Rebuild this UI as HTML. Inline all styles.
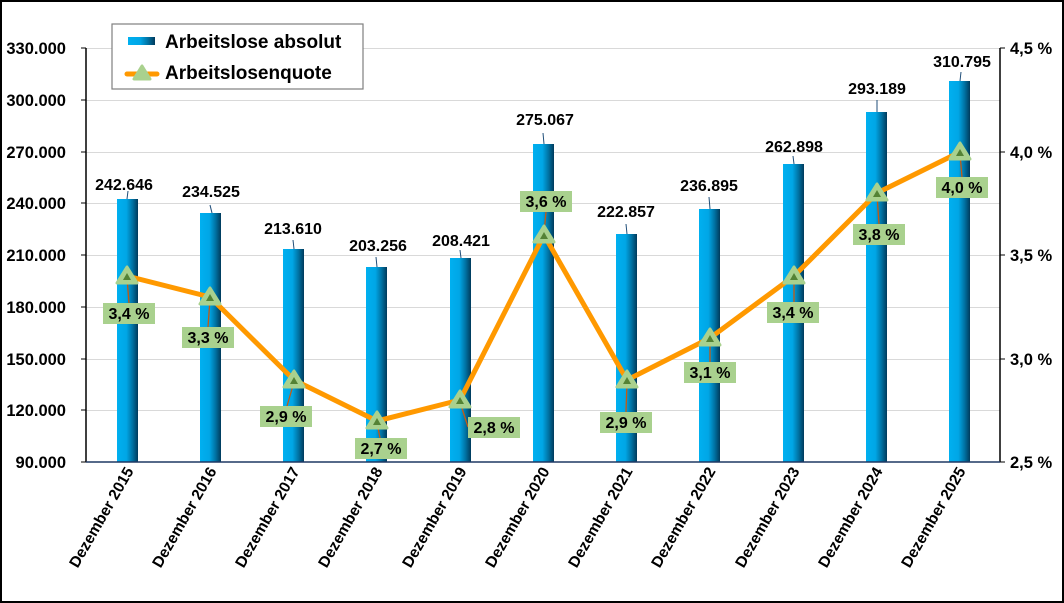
<!DOCTYPE html>
<html><head><meta charset="utf-8"><style>
html,body{margin:0;padding:0;background:#fff}
svg{display:block;font-family:"Liberation Sans",Arial,sans-serif;font-weight:bold}
</style></head><body>
<svg width="1064" height="603" viewBox="0 0 1064 603" xmlns="http://www.w3.org/2000/svg">
<defs>
<linearGradient id="bar" x1="0" x2="1" y1="0" y2="0">
<stop offset="0" stop-color="#00b0f0"/><stop offset="0.45" stop-color="#00a6e6"/><stop offset="0.75" stop-color="#0070a0"/><stop offset="1" stop-color="#003a5c"/>
</linearGradient>
</defs>
<rect x="1" y="1" width="1062" height="601" fill="#fff" stroke="#000" stroke-width="2"/>
<g stroke="#d9d9d9" stroke-width="1">
<line x1="86" x2="1000" y1="48.5" y2="48.5"/><line x1="86" x2="1000" y1="100.5" y2="100.5"/><line x1="86" x2="1000" y1="152.5" y2="152.5"/><line x1="86" x2="1000" y1="203.5" y2="203.5"/><line x1="86" x2="1000" y1="255.5" y2="255.5"/><line x1="86" x2="1000" y1="307.5" y2="307.5"/><line x1="86" x2="1000" y1="359.5" y2="359.5"/><line x1="86" x2="1000" y1="410.5" y2="410.5"/>
</g>
<g fill="url(#bar)">
<rect x="117" y="199" width="21" height="263"/>
<rect x="200" y="213" width="21" height="249"/>
<rect x="283" y="249" width="21" height="213"/>
<rect x="366" y="267" width="21" height="195"/>
<rect x="450" y="258" width="21" height="204"/>
<rect x="533" y="144" width="21" height="318"/>
<rect x="616" y="234" width="21" height="228"/>
<rect x="699" y="209" width="21" height="253"/>
<rect x="783" y="164" width="21" height="298"/>
<rect x="866" y="112" width="21" height="350"/>
<rect x="949" y="81" width="21" height="381"/>
</g>
<g stroke="#000" stroke-width="1.5" fill="none">
<line x1="86" x2="86" y1="48" y2="462"/><line x1="1000" x2="1000" y1="48" y2="462"/>
</g>
<line x1="86" x2="1000" y1="462" y2="462" stroke="#1f3864" stroke-width="1.5"/>
<g stroke="#000" stroke-width="1">
<line x1="81" x2="86" y1="48" y2="48"/><line x1="81" x2="86" y1="100" y2="100"/><line x1="81" x2="86" y1="152" y2="152"/><line x1="81" x2="86" y1="203" y2="203"/><line x1="81" x2="86" y1="255" y2="255"/><line x1="81" x2="86" y1="307" y2="307"/><line x1="81" x2="86" y1="359" y2="359"/><line x1="81" x2="86" y1="410" y2="410"/><line x1="81" x2="86" y1="462" y2="462"/>
<line x1="1000" x2="1005" y1="48" y2="48"/><line x1="1000" x2="1005" y1="152" y2="152"/><line x1="1000" x2="1005" y1="255" y2="255"/><line x1="1000" x2="1005" y1="359" y2="359"/><line x1="1000" x2="1005" y1="462" y2="462"/>
</g>
<g font-size="16.5" fill="#000" text-anchor="end">
<text x="66" y="54">330.000</text><text x="66" y="106">300.000</text><text x="66" y="158">270.000</text><text x="66" y="209">240.000</text><text x="66" y="261">210.000</text><text x="66" y="313">180.000</text><text x="66" y="365">150.000</text><text x="66" y="416">120.000</text><text x="66" y="468">90.000</text>
</g>
<g font-size="16.5" fill="#000">
<text x="1010" y="54">4,5 %</text><text x="1010" y="158">4,0 %</text><text x="1010" y="261">3,5 %</text><text x="1010" y="365">3,0 %</text><text x="1010" y="468">2,5 %</text>
</g>
<g font-size="15.5" fill="#000" text-anchor="end">
<text transform="translate(134,471) rotate(-60)">Dezember 2015</text>
<text transform="translate(217,471) rotate(-60)">Dezember 2016</text>
<text transform="translate(300,471) rotate(-60)">Dezember 2017</text>
<text transform="translate(383,471) rotate(-60)">Dezember 2018</text>
<text transform="translate(467,471) rotate(-60)">Dezember 2019</text>
<text transform="translate(550,471) rotate(-60)">Dezember 2020</text>
<text transform="translate(633,471) rotate(-60)">Dezember 2021</text>
<text transform="translate(716,471) rotate(-60)">Dezember 2022</text>
<text transform="translate(800,471) rotate(-60)">Dezember 2023</text>
<text transform="translate(883,471) rotate(-60)">Dezember 2024</text>
<text transform="translate(966,471) rotate(-60)">Dezember 2025</text>
</g>
<g stroke="#1f4e79" stroke-width="1">
<line x1="128" x2="127" y1="191" y2="199"/><line x1="210" x2="212" y1="205" y2="213"/><line x1="293" x2="294" y1="240" y2="249"/><line x1="376" x2="377" y1="257" y2="267"/><line x1="460" x2="461" y1="250" y2="258"/><line x1="543" x2="544" y1="133" y2="144"/><line x1="626" x2="627" y1="224" y2="234"/><line x1="709" x2="710" y1="197" y2="209"/><line x1="793" x2="794" y1="156" y2="164"/><line x1="877" x2="877" y1="100" y2="112"/><line x1="961" x2="960" y1="72" y2="81"/>
</g>
<g font-size="16" fill="#000" text-anchor="middle">
<text x="124" y="190">242.646</text><text x="211" y="197">234.525</text><text x="293" y="234">213.610</text><text x="378" y="251">203.256</text><text x="461" y="246">208.421</text><text x="545" y="125">275.067</text><text x="626" y="217">222.857</text><text x="709" y="191">236.895</text><text x="794" y="152">262.898</text><text x="877" y="94">293.189</text><text x="962" y="67">310.795</text>
</g>
<polyline fill="none" stroke="#ff9900" stroke-width="5" stroke-linejoin="round" points="127,276 210,297 294,380 377,421 460,400 544,235 627,380 710,338 794,276 877,193 960,152"/>
<g stroke="#c55a11" stroke-width="1.3">
<line x1="127" y1="278" x2="129" y2="303"/><line x1="210" y1="299" x2="208" y2="327"/><line x1="294" y1="382" x2="287" y2="406"/><line x1="377" y1="423" x2="380" y2="438"/><line x1="460" y1="402" x2="468" y2="427"/><line x1="544" y1="233" x2="546" y2="212"/><line x1="627" y1="382" x2="626" y2="412"/><line x1="710" y1="340" x2="710" y2="362"/><line x1="794" y1="278" x2="794" y2="302"/><line x1="877" y1="195" x2="879" y2="224"/><line x1="960" y1="154" x2="962" y2="177"/>
</g>
<g fill="#a9d18e" stroke="#a9d18e" stroke-width="3" stroke-linejoin="round">
<polygon points="127,267 117,283 137,283"/><polygon points="210,288 200,304 220,304"/><polygon points="294,371 284,387 304,387"/><polygon points="377,412 367,428 387,428"/><polygon points="460,391 450,407 470,407"/><polygon points="544,226 534,242 554,242"/><polygon points="627,371 617,387 637,387"/><polygon points="710,329 700,345 720,345"/><polygon points="794,267 784,283 804,283"/><polygon points="877,184 867,200 887,200"/><polygon points="960,143 950,159 970,159"/>
</g>
<g fill="#548235"><polygon points="127,273 123,280 131,280"/><polygon points="210,294 206,301 214,301"/><polygon points="294,377 290,384 298,384"/><polygon points="377,418 373,425 381,425"/><polygon points="460,397 456,404 464,404"/><polygon points="544,232 540,239 548,239"/><polygon points="627,377 623,384 631,384"/><polygon points="710,335 706,342 714,342"/><polygon points="794,273 790,280 798,280"/><polygon points="877,190 873,197 881,197"/><polygon points="960,149 956,156 964,156"/></g>
<g fill="#a9d18e">
<rect x="103" y="303" width="52" height="21"/><rect x="182" y="327" width="52" height="21"/><rect x="260" y="406" width="52" height="21"/><rect x="355" y="438" width="52" height="21"/><rect x="468" y="417" width="52" height="21"/><rect x="520" y="191" width="52" height="21"/><rect x="600" y="412" width="52" height="21"/><rect x="684" y="362" width="52" height="21"/><rect x="767" y="302" width="52" height="21"/><rect x="853" y="224" width="52" height="21"/><rect x="936" y="177" width="52" height="21"/>
</g>
<g font-size="16" fill="#000" text-anchor="middle">
<text x="129" y="319">3,4 %</text><text x="208" y="343">3,3 %</text><text x="286" y="422">2,9 %</text><text x="381" y="454">2,7 %</text><text x="494" y="433">2,8 %</text><text x="546" y="207">3,6 %</text><text x="626" y="428">2,9 %</text><text x="710" y="378">3,1 %</text><text x="793" y="318">3,4 %</text><text x="879" y="240">3,8 %</text><text x="962" y="193">4,0 %</text>
</g>
<rect x="112" y="24" width="251" height="65" fill="#fff" stroke="#7f7f7f" stroke-width="1.2"/>
<rect x="128" y="37" width="27" height="8" fill="url(#bar)"/>
<text x="165" y="48" font-size="19" fill="#000">Arbeitslose absolut</text>
<line x1="127" x2="157" y1="74" y2="74" stroke="#ff9900" stroke-width="5" stroke-linecap="round"/>
<polygon points="142,66 134,79 150,79" fill="#a9d18e" stroke="#a9d18e" stroke-width="3" stroke-linejoin="round"/>
<text x="165" y="79" font-size="19" fill="#000">Arbeitslosenquote</text>
</svg>
</body></html>
